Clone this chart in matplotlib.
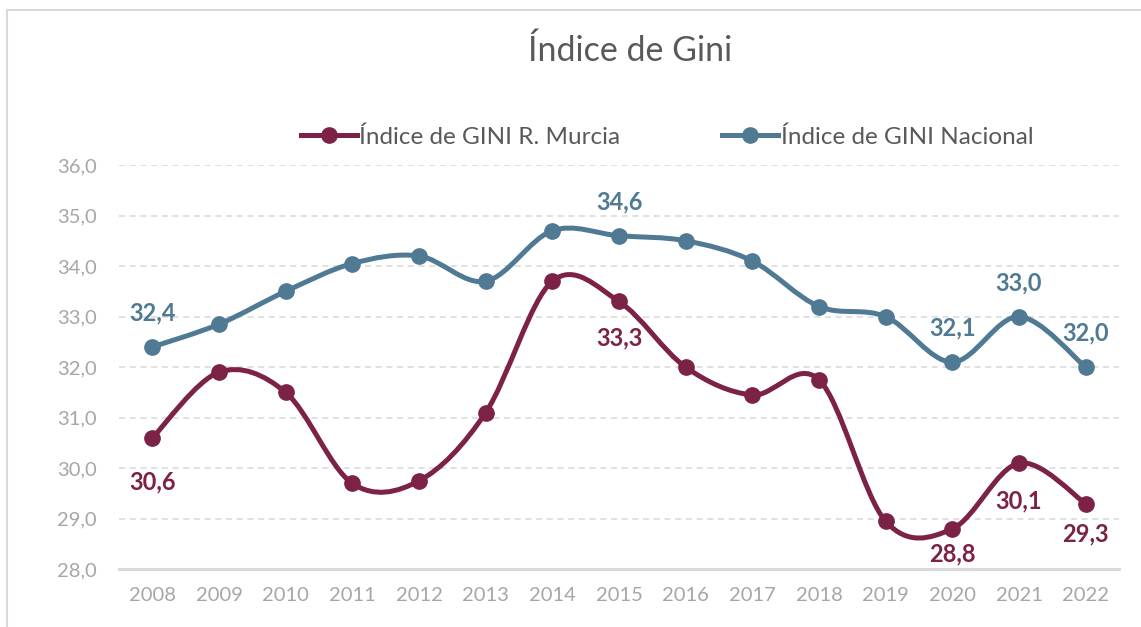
import numpy as np
import matplotlib.pyplot as plt
from matplotlib.path import Path
from matplotlib.patches import PathPatch
from matplotlib.lines import Line2D

plt.rcParams['font.family'] = ['Lato', 'DejaVu Sans']

# Data
years = ['2008', '2009', '2010', '2011', '2012', '2013', '2014', '2015',
         '2016', '2017', '2018', '2019', '2020', '2021', '2022']
murcia = [30.6, 31.9, 31.5, 29.7, 29.75, 31.1, 33.7, 33.3,
          32.0, 31.45, 31.75, 28.95, 28.8, 30.1, 29.3]
nacional = [32.4, 32.85, 33.5, 34.05, 34.2, 33.7, 34.7, 34.6,
            34.5, 34.1, 33.2, 33.0, 32.1, 33.0, 32.0]
labelled_years = ['2008', '2015', '2020', '2021', '2022']

c_murcia = '#7B2246'
c_nac = '#507A93'
c_grid = '#D9D9D9'
c_text = '#595959'
c_tick = '#A6A6A6'


def smooth_path(x, y):
    # Excel-like smoothed line: cubic Bezier through each point
    pts = np.column_stack([x, y]).astype(float)
    n = len(pts)
    verts = [pts[0]]
    codes = [Path.MOVETO]
    for i in range(n - 1):
        p0 = pts[i - 1] if i > 0 else pts[i]
        p1 = pts[i]
        p2 = pts[i + 1]
        p3 = pts[i + 2] if i + 2 < n else pts[i + 1]
        verts += [p1 + (p2 - p0) / 6.0, p2 - (p3 - p1) / 6.0, p2]
        codes += [Path.CURVE4] * 3
    return Path(verts, codes)


fig = plt.figure(figsize=(11.41, 6.27), dpi=100)
ax = fig.add_axes([119 / 1141, 57.7 / 627, 1000 / 1141, 404.3 / 627])

x = np.arange(len(years))
ax.set_xlim(-0.5, len(years) - 0.5)
ax.set_ylim(28, 36)

for vals, col in [(murcia, c_murcia), (nacional, c_nac)]:
    ax.add_patch(PathPatch(smooth_path(x, vals), facecolor='none',
                           edgecolor=col, lw=3.6, capstyle='round', zorder=3))
    ax.plot(x, vals, 'o', color=col, markersize=11, zorder=4)

# data labels (vertical offsets in points, below for Murcia)
murcia_off = [-32, -26, -18, -27, -22]
for yr, off in zip(labelled_years, murcia_off):
    i = years.index(yr)
    ax.annotate(f'{nacional[i]:.1f}'.replace('.', ','), (i, nacional[i]),
                xytext=(0, 24.5), textcoords='offset points', ha='center',
                va='center', color=c_nac, fontsize=17, fontweight='bold')
    ax.annotate(f'{murcia[i]:.1f}'.replace('.', ','), (i, murcia[i]),
                xytext=(0, off), textcoords='offset points', ha='center',
                va='center', color=c_murcia, fontsize=17, fontweight='bold')

ax.set_xticks(x)
ax.set_xticklabels(years)
yt = np.arange(28, 37, 1)
ax.set_yticks(yt)
ax.set_yticklabels([f'{v:.1f}'.replace('.', ',') for v in yt])
ax.tick_params(length=0, labelsize=14.5, colors=c_tick)
ax.tick_params(axis='y', pad=16)
ax.tick_params(axis='x', pad=13)

for v in yt[1:]:
    ax.axhline(v, color=c_grid, lw=1.1, ls=(0, (4, 3)), zorder=1)
for s in ['top', 'right', 'left']:
    ax.spines[s].set_visible(False)
ax.spines['bottom'].set_color(c_grid)
ax.spines['bottom'].set_linewidth(2.2)

fig.text(630 / 1141, 1 - 51 / 627, 'Índice de Gini', ha='center', va='center',
         fontsize=24.5, color=c_text)

handles = [Line2D([], [], color=c_murcia, lw=3.6, marker='o', markersize=11),
           Line2D([], [], color=c_nac, lw=3.6, marker='o', markersize=11)]
fig.legend(handles, ['Índice de GINI R. Murcia', 'Índice de GINI Nacional'],
           loc='center', bbox_to_anchor=(667 / 1141, 1 - 137 / 627), ncol=2,
           frameon=False, fontsize=17.5, labelcolor=c_text, handlelength=2.3,
           handletextpad=0.1, columnspacing=4.2)

# outer chart border
fig.add_artist(Line2D([7 / 1141, 7 / 1141], [0, 1 - 10 / 627],
                      transform=fig.transFigure, color=c_grid, lw=1.5))
fig.add_artist(Line2D([7 / 1141, 1], [1 - 10 / 627, 1 - 10 / 627],
                      transform=fig.transFigure, color=c_grid, lw=1.5))

fig.savefig('out.png', dpi=100)
